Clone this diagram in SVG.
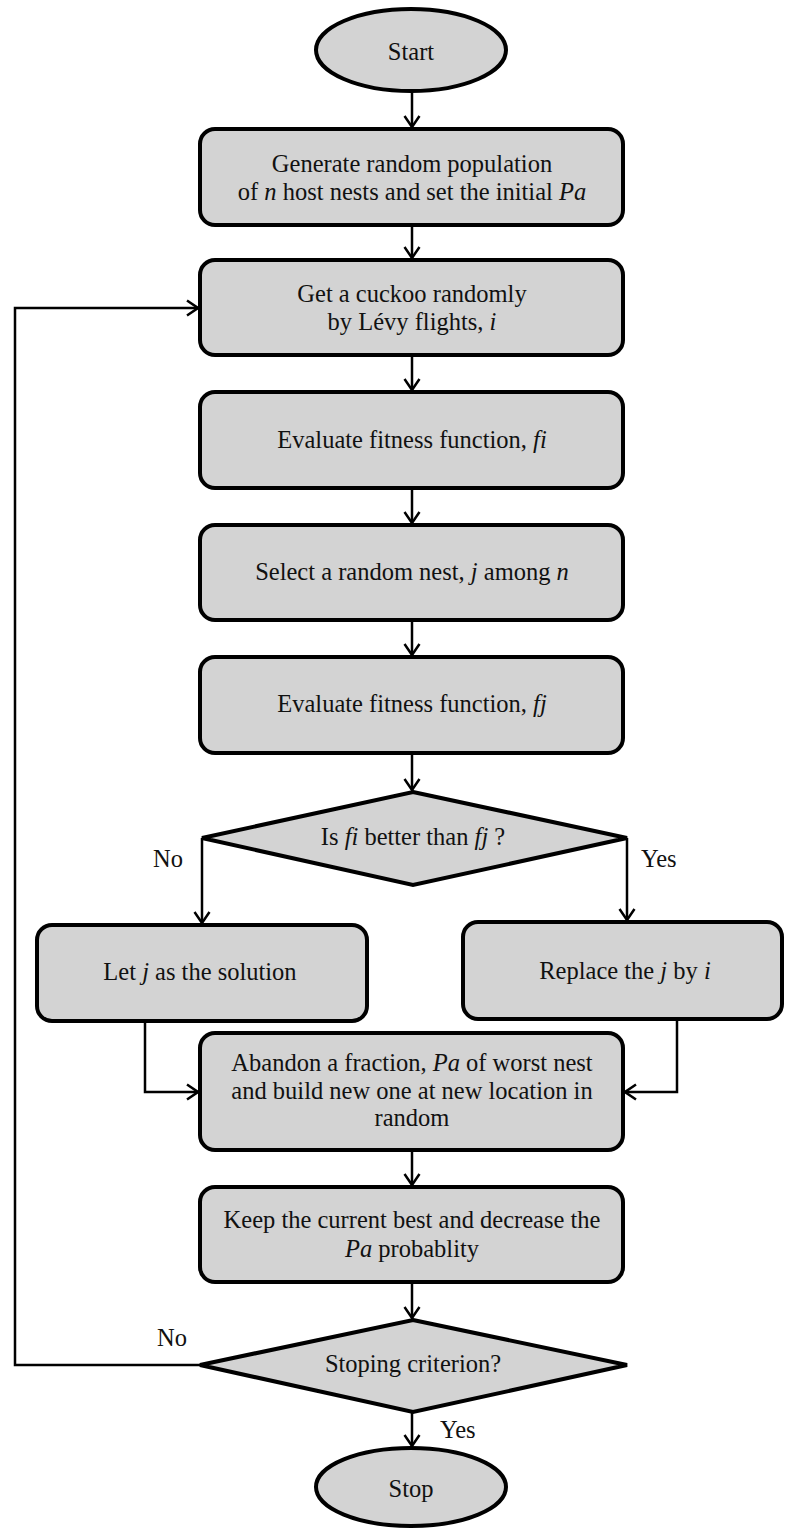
<svg xmlns="http://www.w3.org/2000/svg" width="785" height="1528" viewBox="0 0 785 1528">
<defs>
<style>
.n{fill:#d3d3d3;stroke:#000;stroke-width:4}
.t{font-family:"Liberation Serif","Times New Roman",serif;font-size:24.5px;fill:#111;text-anchor:middle}
.l{font-family:"Liberation Serif","Times New Roman",serif;font-size:24.5px;fill:#111}
.i{font-style:italic}
.c{fill:none;stroke:#000;stroke-width:2.5}
</style>
<marker id="ah" markerUnits="userSpaceOnUse" markerWidth="14" markerHeight="18" refX="12" refY="9" orient="auto" viewBox="0 0 14 18">
<path d="M1,1.5 L12,9 L1,16.5" fill="none" stroke="#000" stroke-width="2.5"/>
</marker>
</defs>
<rect width="785" height="1528" fill="#fff"/>
<g id="connectors">
<line class="c" x1="412" y1="91" x2="412" y2="127" marker-end="url(#ah)"/>
<line class="c" x1="412" y1="225" x2="412" y2="258" marker-end="url(#ah)"/>
<line class="c" x1="412" y1="355" x2="412" y2="390" marker-end="url(#ah)"/>
<line class="c" x1="412" y1="488" x2="412" y2="523" marker-end="url(#ah)"/>
<line class="c" x1="412" y1="620" x2="412" y2="655" marker-end="url(#ah)"/>
<line class="c" x1="412" y1="753" x2="412" y2="790" marker-end="url(#ah)"/>
<polyline class="c" points="202,838 202,923" marker-end="url(#ah)"/>
<polyline class="c" points="627,838 627,920" marker-end="url(#ah)"/>
<polyline class="c" points="145,1021 145,1092 198,1092" marker-end="url(#ah)"/>
<polyline class="c" points="677,1019 677,1092 625,1092" marker-end="url(#ah)"/>
<line class="c" x1="412" y1="1150" x2="412" y2="1185" marker-end="url(#ah)"/>
<line class="c" x1="412" y1="1282" x2="412" y2="1318" marker-end="url(#ah)"/>
<polyline class="c" points="200,1365 15,1365 15,308 198,308" marker-end="url(#ah)"/>
<line class="c" x1="412" y1="1412" x2="412" y2="1446" marker-end="url(#ah)"/>
<text class="l" x="153" y="867">No</text>
<text class="l" x="641" y="867">Yes</text>
<text class="l" x="157" y="1346">No</text>
<text class="l" x="440" y="1438">Yes</text>
</g>
<g id="start">
<ellipse class="n" cx="411" cy="50" rx="95" ry="41"/>
<text class="t" x="411" y="60">Start</text>
</g>
<g id="generate">
<rect class="n" x="200" y="129" width="423" height="96" rx="15"/>
<text class="t" x="412" y="172">Generate random population</text>
<text class="t" x="412" y="200">of <tspan class="i">n</tspan> host nests and set the initial <tspan class="i">Pa</tspan></text>
</g>
<g id="cuckoo">
<rect class="n" x="200" y="260" width="423" height="95" rx="15"/>
<text class="t" x="412" y="302">Get a cuckoo randomly</text>
<text class="t" x="412" y="330">by Lévy flights, <tspan class="i">i</tspan></text>
</g>
<g id="evalfi">
<rect class="n" x="200" y="392" width="423" height="96" rx="15"/>
<text class="t" x="412" y="448">Evaluate fitness function, <tspan class="i">fi</tspan></text>
</g>
<g id="select">
<rect class="n" x="200" y="525" width="423" height="95" rx="15"/>
<text class="t" x="412" y="580">Select a random nest, <tspan class="i">j</tspan> among <tspan class="i">n</tspan></text>
</g>
<g id="evalfj">
<rect class="n" x="200" y="657" width="423" height="96" rx="15"/>
<text class="t" x="412" y="712">Evaluate fitness function, <tspan class="i">fj</tspan></text>
</g>
<g id="decision1">
<polygon class="n" points="413,792 627,838 413,885 202,838"/>
<text class="t" x="413" y="845">Is <tspan class="i">fi</tspan> better than <tspan class="i">fj</tspan> ?</text>
</g>
<g id="letj">
<rect class="n" x="37" y="925" width="330" height="96" rx="15"/>
<text class="t" x="200" y="980">Let <tspan class="i">j</tspan> as the solution</text>
</g>
<g id="replace">
<rect class="n" x="463" y="922" width="319" height="97" rx="15"/>
<text class="t" x="625" y="979">Replace the <tspan class="i">j</tspan> by <tspan class="i">i</tspan></text>
</g>
<g id="abandon">
<rect class="n" x="200" y="1033" width="423" height="117" rx="15"/>
<text class="t" x="412" y="1071">Abandon a fraction, <tspan class="i">Pa</tspan> of worst nest</text>
<text class="t" x="412" y="1099">and build new one at new location in</text>
<text class="t" x="412" y="1126">random</text>
</g>
<g id="keep">
<rect class="n" x="200" y="1187" width="423" height="95" rx="15"/>
<text class="t" x="412" y="1228">Keep the current best and decrease the</text>
<text class="t" x="412" y="1257"><tspan class="i">Pa</tspan> probablity</text>
</g>
<g id="decision2">
<polygon class="n" points="413,1320 627,1365 413,1412 200,1365"/>
<text class="t" x="413" y="1372">Stoping criterion?</text>
</g>
<g id="stop">
<ellipse class="n" cx="411" cy="1487" rx="95" ry="39"/>
<text class="t" x="411" y="1497">Stop</text>
</g>
</svg>
